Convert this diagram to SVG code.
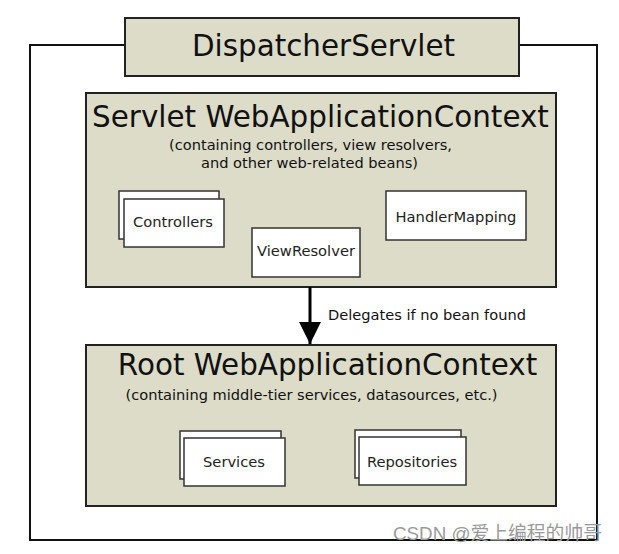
<svg xmlns="http://www.w3.org/2000/svg" width="619" height="554" viewBox="0 0 619 554">
<defs>
<style>
.ctx{fill:#dcdcc9;stroke:#222;stroke-width:2}
.bean{fill:#fff;stroke:#333;stroke-width:1.5}
.big{font-family:"DejaVu Sans",sans-serif;font-size:29.4px;fill:#111;text-anchor:middle}
.sub{font-family:"DejaVu Sans",sans-serif;font-size:14.6px;fill:#111;text-anchor:middle}
.lbl{font-family:"DejaVu Sans",sans-serif;font-size:14.7px;fill:#222;text-anchor:middle}
.wm{font-family:"Liberation Sans","Noto Sans CJK SC",sans-serif;font-size:18.8px;fill:#9a9a9a}
</style>
<marker id="ah" viewBox="0 0 10 10" refX="10" refY="5" markerWidth="7.3" markerHeight="8.7" markerUnits="strokeWidth" orient="auto">
<path d="M0,0 L10,5 L0,10 Z" fill="#000"/>
</marker>
</defs>
<rect width="619" height="554" fill="#fff"/>
<g id="frame">
<path d="M125,45 H30 V540 H597 V45 H519" fill="none" stroke="#111" stroke-width="2"/>
</g>
<g id="dispatcher">
<rect class="ctx" x="125" y="18" width="394" height="58"/>
<text class="big" x="323.5" y="56">DispatcherServlet</text>
</g>
<g id="servlet-context">
<rect class="ctx" x="86" y="93" width="470" height="194"/>
<text class="big" x="320.5" y="127">Servlet WebApplicationContext</text>
<text class="sub" x="310.5" y="150">(containing controllers, view resolvers,</text>
<text class="sub" x="309.5" y="168">and other web-related beans)</text>
</g>
<g id="controllers">
<rect class="bean" x="119" y="191" width="100" height="48"/>
<rect class="bean" x="124" y="199" width="100" height="48"/>
<text class="lbl" x="173" y="227">Controllers</text>
</g>
<g id="viewresolver">
<rect class="bean" x="252" y="228" width="108" height="49"/>
<text class="lbl" x="306" y="256">ViewResolver</text>
</g>
<g id="handlermapping">
<rect class="bean" x="386" y="191" width="140" height="49"/>
<text class="lbl" x="456" y="222">HandlerMapping</text>
</g>
<g id="root-context">
<rect class="ctx" x="86" y="345" width="470" height="161"/>
<text class="big" x="327.5" y="375">Root WebApplicationContext</text>
<text class="sub" x="311.5" y="400">(containing middle-tier services, datasources, etc.)</text>
</g>
<g id="services">
<rect class="bean" x="180" y="431" width="101" height="48"/>
<rect class="bean" x="184" y="438" width="101" height="48"/>
<text class="lbl" x="234" y="467">Services</text>
</g>
<g id="repositories">
<rect class="bean" x="355" y="430" width="106" height="48"/>
<rect class="bean" x="359" y="437" width="107" height="48"/>
<text class="lbl" x="412" y="467">Repositories</text>
</g>
<g id="connectors">
<line x1="310" y1="287" x2="310" y2="344" stroke="#000" stroke-width="3" marker-end="url(#ah)"/>
<text class="sub" x="328" y="320" style="text-anchor:start">Delegates if no bean found</text>
</g>
<text class="wm" x="393" y="540">CSDN @爱上编程的帅哥</text>
</svg>
